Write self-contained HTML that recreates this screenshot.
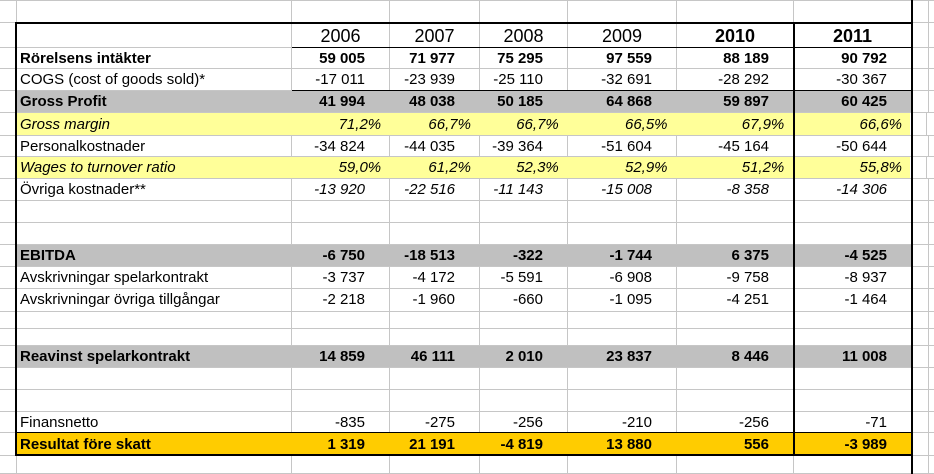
<!DOCTYPE html>
<html><head><meta charset="utf-8"><style>
*{margin:0;padding:0;box-sizing:border-box}
body{width:934px;height:474px;background:#fff;position:relative;overflow:hidden;font-family:"Liberation Sans",Arial,sans-serif;font-size:15px;color:#000}
.r{position:absolute;left:0;width:934px;display:flex;border-bottom:1px solid #c6c6c6}
.r>div{height:100%;border-right:1px solid #c6c6c6;text-align:right;padding-right:24px;white-space:nowrap;overflow:hidden}
.r>div:nth-child(1){width:17px;padding:0}
.r>div:nth-child(2){width:275px;text-align:left;padding:0 0 0 3px}
.r>div:nth-child(3){width:98px}
.r>div:nth-child(4){width:90px}
.r>div:nth-child(5){width:88px}
.r>div:nth-child(6){width:109px}
.r>div:nth-child(7){width:117px}
.r>div:nth-child(8){width:118px}
.r>div:nth-child(9){width:17px;padding:0}
.r>div:nth-child(10){width:5px;padding:0;border:none}
.g>div:nth-child(n+2):nth-child(-n+8){background:#c0c0c0;border-right-color:#c0c0c0}
.y>div:nth-child(n+2):nth-child(-n+8){background:#ffff99;border-right-color:#ffff99}
.o>div:nth-child(n+2):nth-child(-n+8){background:#ffcc00;border-right-color:#ffcc00}
.b{font-weight:bold}
.i>div:nth-child(n+3){font-style:italic}
.p>div:nth-child(n+3){padding-right:7px}
.h>div{text-align:center !important;padding:0 !important;font-size:18px}
.h>div:nth-child(1),.h>div:nth-child(2){text-align:left}
.k{position:absolute;background:#000}
</style></head><body>
<div class="r" style="top:0;height:23px;border-top:1px solid #c6c6c6"><div></div><div></div><div></div><div></div><div></div><div></div><div></div><div></div><div></div><div></div></div>
<div class="r h" style="top:23px;height:25px;line-height:26px"><div></div><div></div><div>2006</div><div>2007</div><div>2008</div><div>2009</div><div class="b">2010</div><div class="b">2011</div><div></div><div></div></div>
<div class="r b" style="top:48px;height:21px;line-height:21px"><div></div><div>Rörelsens intäkter</div><div>59 005</div><div>71 977</div><div>75 295</div><div>97 559</div><div>88 189</div><div>90 792</div><div></div><div></div></div>
<div class="r" style="top:69px;height:22px;line-height:21px"><div></div><div>COGS (cost of goods sold)*</div><div>-17 011</div><div>-23 939</div><div>-25 110</div><div>-32 691</div><div>-28 292</div><div>-30 367</div><div></div><div></div></div>
<div class="r b g" style="top:91px;height:22px;line-height:22px"><div></div><div>Gross Profit</div><div>41 994</div><div>48 038</div><div>50 185</div><div>64 868</div><div>59 897</div><div>60 425</div><div></div><div></div></div>
<div class="r y p" style="top:113px;height:23px;line-height:23px;font-style:italic"><div></div><div>Gross margin</div><div>71,2%</div><div>66,7%</div><div>66,7%</div><div>66,5%</div><div>67,9%</div><div>66,6%</div><div></div><div></div></div>
<div class="r" style="top:136px;height:21px;line-height:21px"><div></div><div>Personalkostnader</div><div>-34 824</div><div>-44 035</div><div>-39 364</div><div>-51 604</div><div>-45 164</div><div>-50 644</div><div></div><div></div></div>
<div class="r y p" style="top:157px;height:22px;line-height:22px;font-style:italic"><div></div><div>Wages to turnover ratio</div><div>59,0%</div><div>61,2%</div><div>52,3%</div><div>52,9%</div><div>51,2%</div><div>55,8%</div><div></div><div></div></div>
<div class="r i" style="top:179px;height:22px;line-height:21px"><div></div><div>Övriga kostnader**</div><div>-13 920</div><div>-22 516</div><div>-11 143</div><div>-15 008</div><div>-8 358</div><div>-14 306</div><div></div><div></div></div>
<div class="r" style="top:201px;height:22px"><div></div><div></div><div></div><div></div><div></div><div></div><div></div><div></div><div></div><div></div></div>
<div class="r" style="top:223px;height:22px"><div></div><div></div><div></div><div></div><div></div><div></div><div></div><div></div><div></div><div></div></div>
<div class="r b g" style="top:245px;height:22px;line-height:22px"><div></div><div>EBITDA</div><div>-6 750</div><div>-18 513</div><div>-322</div><div>-1 744</div><div>6 375</div><div>-4 525</div><div></div><div></div></div>
<div class="r" style="top:267px;height:22px;line-height:21px"><div></div><div>Avskrivningar spelarkontrakt</div><div>-3 737</div><div>-4 172</div><div>-5 591</div><div>-6 908</div><div>-9 758</div><div>-8 937</div><div></div><div></div></div>
<div class="r" style="top:289px;height:23px;line-height:22px"><div></div><div>Avskrivningar övriga tillgångar</div><div>-2 218</div><div>-1 960</div><div>-660</div><div>-1 095</div><div>-4 251</div><div>-1 464</div><div></div><div></div></div>
<div class="r" style="top:312px;height:17px"><div></div><div></div><div></div><div></div><div></div><div></div><div></div><div></div><div></div><div></div></div>
<div class="r" style="top:329px;height:17px"><div></div><div></div><div></div><div></div><div></div><div></div><div></div><div></div><div></div><div></div></div>
<div class="r b g" style="top:346px;height:22px;line-height:22px"><div></div><div>Reavinst spelarkontrakt</div><div>14 859</div><div>46 111</div><div>2 010</div><div>23 837</div><div>8 446</div><div>11 008</div><div></div><div></div></div>
<div class="r" style="top:368px;height:22px"><div></div><div></div><div></div><div></div><div></div><div></div><div></div><div></div><div></div><div></div></div>
<div class="r" style="top:390px;height:22px"><div></div><div></div><div></div><div></div><div></div><div></div><div></div><div></div><div></div><div></div></div>
<div class="r" style="top:412px;height:21px;line-height:22px"><div></div><div>Finansnetto</div><div>-835</div><div>-275</div><div>-256</div><div>-210</div><div>-256</div><div>-71</div><div></div><div></div></div>
<div class="r b o" style="top:433px;height:23px;line-height:23px"><div></div><div>Resultat före skatt</div><div>1 319</div><div>21 191</div><div>-4 819</div><div>13 880</div><div>556</div><div>-3 989</div><div></div><div></div></div>
<div class="r" style="top:456px;height:18px"><div></div><div></div><div></div><div></div><div></div><div></div><div></div><div></div><div></div><div></div></div>

<div class="k" style="left:15px;top:22px;width:898px;height:2px;"></div>
<div class="k" style="left:15px;top:22px;width:2px;height:434px;"></div>
<div class="k" style="left:911px;top:0;width:2px;height:474px;"></div>
<div class="k" style="left:15px;top:454px;width:898px;height:2px;"></div>
<div class="k" style="left:793px;top:22px;width:2px;height:434px;"></div>
<div class="k" style="left:292px;top:47px;width:620px;height:1px;"></div>
<div class="k" style="left:292px;top:90px;width:620px;height:1px;"></div>
<div class="k" style="left:15px;top:432px;width:898px;height:1px;"></div>
</body></html>
